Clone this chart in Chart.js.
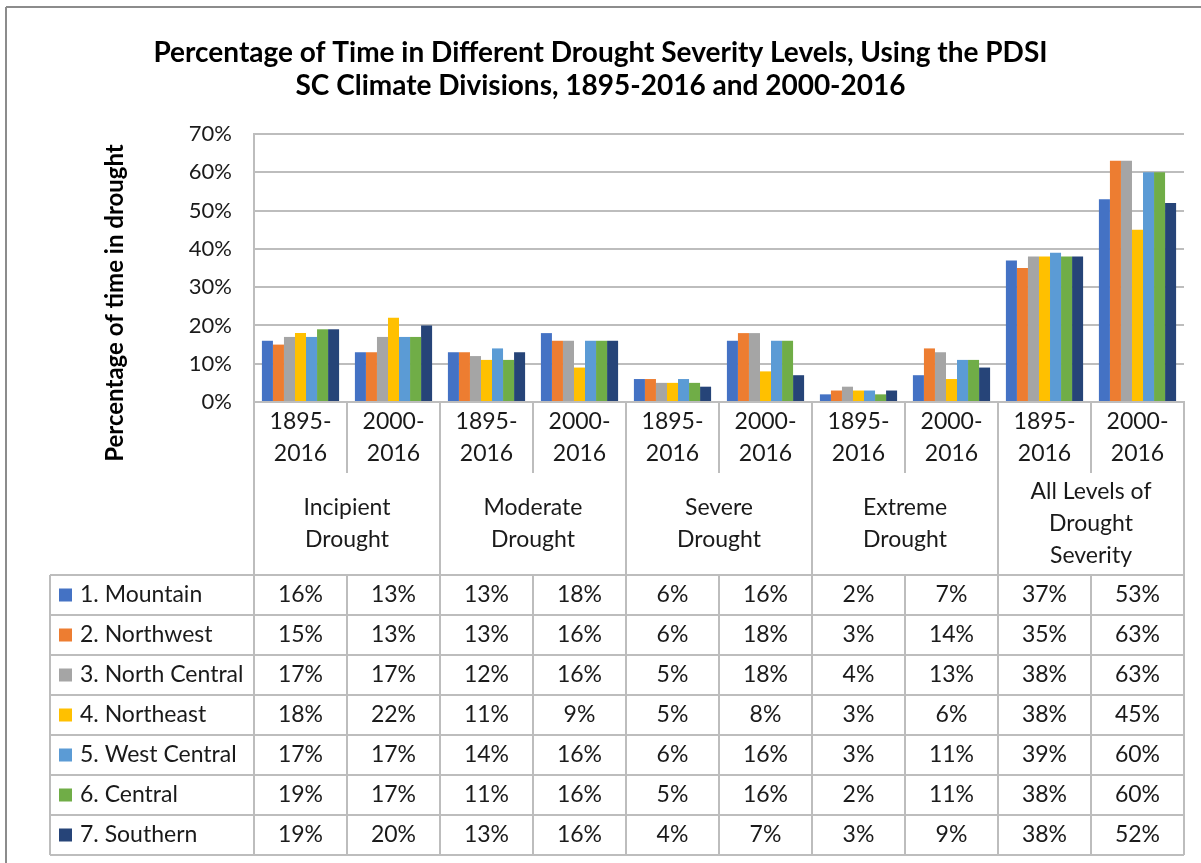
<!DOCTYPE html>
<html>
<head>
<meta charset="utf-8">
<title>Drought Severity Levels, PDSI</title>
<script src="https://cdn.jsdelivr.net/npm/chart.js@4.4.1/dist/chart.umd.min.js"></script>
<style>
  html, body { margin: 0; padding: 0; background: #ffffff; }
  #wrap { position: relative; width: 1201px; height: 863px; }
</style>
</head>
<body>
<div id="wrap"><canvas id="chart" width="1201" height="863"></canvas></div>
<script>
// Period labels (one per bar cluster) and the drought level each pair belongs to
const periods = ['1895-2016', '2000-2016', '1895-2016', '2000-2016', '1895-2016',
                 '2000-2016', '1895-2016', '2000-2016', '1895-2016', '2000-2016'];
const levels = [
  ['Incipient', 'Drought'],
  ['Moderate', 'Drought'],
  ['Severe', 'Drought'],
  ['Extreme', 'Drought'],
  ['All Levels of', 'Drought', 'Severity']
];
const yTicks = [0, 10, 20, 30, 40, 50, 60, 70];

// Percentage of time per climate division (same order as the periods above)
const divisions = ['1. Mountain', '2. Northwest', '3. North Central', '4. Northeast',
                   '5. West Central', '6. Central', '7. Southern'];
const mountain     = [16, 13, 13, 18, 6, 16, 2, 7, 37, 53];
const northwest    = [15, 13, 13, 16, 6, 18, 3, 14, 35, 63];
const northCentral = [17, 17, 12, 16, 5, 18, 4, 13, 38, 63];
const northeast    = [18, 22, 11, 9, 5, 8, 3, 6, 38, 45];
const westCentral  = [17, 17, 14, 16, 6, 16, 3, 11, 39, 60];
const central      = [19, 17, 11, 16, 5, 16, 2, 11, 38, 60];
const southern     = [19, 20, 13, 16, 4, 7, 3, 9, 38, 52];

const seriesValues = [mountain, northwest, northCentral, northeast, westCentral, central, southern];
const colors = ['#4472C4', '#ED7D31', '#A5A5A5', '#FFC000', '#5B9BD5', '#70AD47', '#264478'];

const FONT = 'Lato, "Open Sans", "Liberation Sans", sans-serif';
const GRID = '#BDBDBD';
const TEXT = '#1a1a1a';
const TEXT_SIZE = 23;

// Layout of the data table drawn under the plot
const TABLE = {
  periodRow: 71,     // height of the "1895- / 2016" row
  levelRow: 102,     // height of the drought level row
  dataRow: 40,       // height of each division row
  legendLeft: 50     // left edge of the division column
};

// Data table (Excel-style) under the x axis, with legend keys
const dataTablePlugin = {
  id: 'dataTable',
  afterDraw(chart) {
    const ctx = chart.ctx;
    const x = chart.scales.x;
    const area = chart.chartArea;
    const n = periods.length;
    const colW = (x.right - x.left) / n;
    const colX = i => x.left + i * colW;
    const top = area.bottom;
    const periodBottom = top + TABLE.periodRow;
    const levelBottom = periodBottom + TABLE.levelRow;
    const tableBottom = levelBottom + TABLE.dataRow * divisions.length;

    ctx.save();
    ctx.strokeStyle = GRID;
    ctx.lineWidth = 2;
    const line = (x1, y1, x2, y2) => {
      ctx.beginPath(); ctx.moveTo(x1, y1); ctx.lineTo(x2, y2); ctx.stroke();
    };

    // vertical separators
    for (let i = 0; i <= n; i++) {
      const px = Math.round(colX(i));
      if (i % 2 === 0) {
        line(px, top, px, tableBottom);
      } else {
        line(px, top, px, periodBottom);
        line(px, levelBottom, px, tableBottom);
      }
    }
    // horizontal separators of the division rows
    for (let r = 0; r <= divisions.length; r++) {
      const py = levelBottom + r * TABLE.dataRow;
      line(TABLE.legendLeft, py, x.right, py);
    }
    line(TABLE.legendLeft, levelBottom, TABLE.legendLeft, tableBottom);

    ctx.fillStyle = TEXT;
    ctx.font = TEXT_SIZE + 'px ' + FONT;
    ctx.textAlign = 'center';
    ctx.textBaseline = 'middle';

    // period labels split on the hyphen
    periods.forEach((p, i) => {
      const parts = p.split('-');
      const cx = colX(i) + colW / 2;
      ctx.fillText(parts[0] + '-', cx, top + 20);
      ctx.fillText(parts[1], cx, top + 52);
    });

    // drought level labels spanning two columns
    const lh = 32;
    levels.forEach((lines, g) => {
      const cx = colX(g * 2 + 1);
      const cy = periodBottom + TABLE.levelRow / 2;
      const start = cy - (lines.length - 1) * lh / 2;
      lines.forEach((t, k) => ctx.fillText(t, cx, start + k * lh));
    });

    // division rows: legend key, name and values
    divisions.forEach((name, r) => {
      const cy = levelBottom + r * TABLE.dataRow + TABLE.dataRow / 2;
      ctx.fillStyle = colors[r];
      ctx.fillRect(TABLE.legendLeft + 9, cy - 6.5, 13, 13);
      ctx.fillStyle = TEXT;
      ctx.textAlign = 'left';
      ctx.fillText(name, TABLE.legendLeft + 30, cy);
      ctx.textAlign = 'center';
      seriesValues[r].forEach((v, i) => {
        ctx.fillText(v + '%', colX(i) + colW / 2, cy);
      });
    });

    // rotated y axis title
    ctx.save();
    ctx.translate(115, 303);
    ctx.rotate(-Math.PI / 2);
    ctx.font = 'bold 24px ' + FONT;
    ctx.textAlign = 'center';
    ctx.fillStyle = '#000';
    ctx.fillText('Percentage of time in drought', 0, 0);
    ctx.restore();

    // outer frame (top and left edges)
    ctx.strokeStyle = '#8c8c8c';
    ctx.lineWidth = 2;
    line(6, 7, chart.width, 7);
    line(6, 7, 6, chart.height);
    ctx.restore();
  }
};

const chart = new Chart(document.getElementById('chart'), {
  type: 'bar',
  data: {
    labels: periods,
    datasets: divisions.map((name, i) => ({
      label: name,
      data: seriesValues[i],
      backgroundColor: colors[i],
      borderWidth: 0,
      categoryPercentage: 0.83,
      barPercentage: 1.0
    }))
  },
  options: {
    responsive: false,
    animation: false,
    devicePixelRatio: 1,
    layout: { padding: { left: 17, right: 17, top: 0, bottom: 461 } },
    plugins: {
      legend: { display: false },
      tooltip: { enabled: false },
      title: {
        display: true,
        text: ['Percentage of Time in Different Drought Severity Levels, Using the PDSI',
               'SC Climate Divisions, 1895-2016 and 2000-2016'],
        color: '#000',
        font: { family: FONT, size: 28, weight: 'bold', lineHeight: 1.18 },
        padding: { top: 36, bottom: 32 }
      }
    },
    scales: {
      x: {
        grid: { display: false },
        ticks: { display: false },
        border: { display: true, color: GRID, width: 2 },
        afterFit(scale) { scale.height = 0; }
      },
      y: {
        min: 0,
        max: 70,
        afterFit(scale) { scale.width = 237; },
        afterBuildTicks(scale) { scale.ticks = yTicks.map(v => ({ value: v })); },
        ticks: {
          color: TEXT,
          font: { family: FONT, size: 22 },
          padding: 22,
          callback: v => v + '%'
        },
        grid: { color: GRID, lineWidth: 2, drawTicks: false },
        border: { display: true, color: GRID, width: 2 }
      }
    }
  },
  plugins: [dataTablePlugin]
});
</script>
</body>
</html>
